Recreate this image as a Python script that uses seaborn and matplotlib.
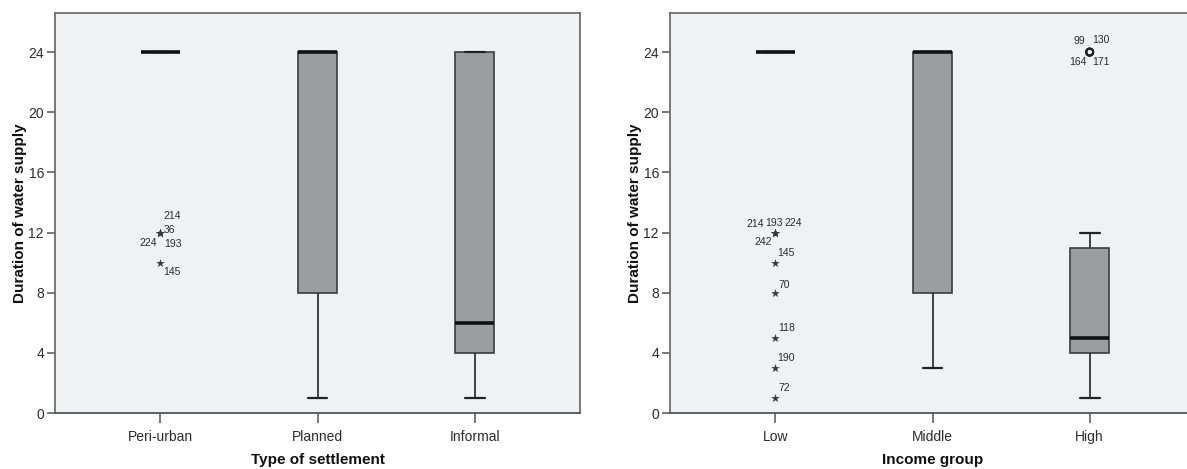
import matplotlib
matplotlib.use("Agg")
import matplotlib.pyplot as plt
import pandas as pd
import seaborn as sns

# Five-number summaries (hours of water supply per day)
settlement = ["Peri-urban", "Planned", "Informal"]
settlement_min = [24, 1, 1]
settlement_q1 = [24, 8, 4]
settlement_median = [24, 24, 6]
settlement_q3 = [24, 24, 24]
settlement_max = [24, 24, 24]

income = ["Low", "Middle", "High"]
income_min = [24, 3, 1]
income_q1 = [24, 8, 4]
income_median = [24, 24, 5]
income_q3 = [24, 24, 11]
income_max = [24, 24, 12]

# Extreme values (stars) and outliers (circles) with their case numbers
settlement_extreme_group = ["Peri-urban"] * 5
settlement_extreme_hours = [12, 12, 12, 12, 10]
settlement_extreme_case = ["214", "36", "224", "193", "145"]

income_extreme_group = ["Low"] * 9
income_extreme_hours = [12, 12, 12, 12, 10, 8, 5, 3, 1]
income_extreme_case = ["214", "193", "224", "242", "145", "70", "118", "190", "72"]

income_outlier_group = ["High"] * 4
income_outlier_hours = [24, 24, 24, 24]
income_outlier_case = ["99", "130", "164", "171"]

y_ticks = [0, 4, 8, 12, 16, 20, 24]

# Label offsets in pixels (dx right, dy down) for each case label
settlement_extreme_offset = [(12, -17), (9, -3), (-12, 10), (13, 11), (12, 9)]
income_extreme_offset = [(-20, -9), (-1, -10), (18, -10), (-12, 9),
                         (11, -10), (9, -8), (11, -10), (11, -10), (9, -10)]
income_outlier_offset = [(-10, -11), (11, -12), (-12, 10), (11, 10)]

sns.set_style("white")
plt.rcParams["font.family"] = ["Liberation Sans", "DejaVu Sans"]

BG = "#f0f1f3"
BOX = "#9c9da1"
EDGE = "#3c3c3c"
FRAME = "#6e6e6e"
TXT = "#2b2b2b"


def summary_frame(groups, mins, q1s, meds, q3s, maxs):
    rows = []
    for g, a, b, c, d, e in zip(groups, mins, q1s, meds, q3s, maxs):
        for v in (a, b, c, d, e):
            rows.append({"group": g, "hours": v})
    return pd.DataFrame(rows)


def label_cases(ax, groups, grp, hrs, cases, offsets):
    for g, h, c, (dx, dy) in zip(grp, hrs, cases, offsets):
        ax.annotate(c, (groups.index(g), h), xytext=(dx * 0.72, -dy * 0.72),
                    textcoords="offset points", ha="center", va="center",
                    fontsize=7.5, color=TXT)


def draw_panel(ax, groups, frame, xlabel, ext_g, ext_h, ext_c, ext_off,
               out_g=None, out_h=None, out_c=None, out_off=None):
    ax.set_facecolor(BG)
    sns.boxplot(data=frame, x="group", y="hours", order=groups, ax=ax,
                width=0.25, whis=(0, 100), showfliers=False,
                color=BOX, saturation=1, linecolor=EDGE, linewidth=1.2,
                medianprops=dict(color="#111111", linewidth=2.6),
                capprops=dict(color="#222222", linewidth=1.6),
                whiskerprops=dict(color="#333333", linewidth=1.3))
    sns.stripplot(x=ext_g, y=ext_h, order=groups, jitter=False, marker="*",
                  size=6.5, color="#3a3a3a", linewidth=0, ax=ax)
    label_cases(ax, groups, ext_g, ext_h, ext_c, ext_off)
    if out_g is not None:
        sns.stripplot(x=out_g, y=out_h, order=groups, jitter=False, marker="o",
                      size=5, color="#222222", ax=ax)
        coll = ax.collections[-1]
        coll.set_facecolor("none")
        coll.set_edgecolor("#222222")
        coll.set_linewidth(1.4)
        label_cases(ax, groups, out_g, out_h, out_c, out_off)

    ax.set_xlim(-0.67, 2.67)
    ax.set_ylim(0, 26.6)
    ax.set_yticks(y_ticks)
    ax.set_yticklabels([str(t) for t in y_ticks])
    ax.set_xlabel(xlabel, fontsize=11, fontweight="bold", color="#111111",
                  labelpad=7)
    ax.set_ylabel("Duration of water supply", fontsize=11, fontweight="bold",
                  color="#111111", labelpad=1)
    ax.tick_params(axis="both", direction="out", length=6, width=1.1,
                   color="#555555", labelcolor=TXT, labelsize=10, pad=2,
                   left=True, bottom=True)
    ax.tick_params(axis="x", length=7, pad=5)
    for side, sp in ax.spines.items():
        sp.set_visible(True)
        sp.set_color(FRAME)
        sp.set_linewidth(1.3)
    ax.spines["bottom"].set_color("#555555")


fig = plt.figure(figsize=(11.87, 4.69), dpi=100)
ax1 = fig.add_axes([55 / 1187, 56 / 469, 525 / 1187, 400 / 469])
ax2 = fig.add_axes([670 / 1187, 56 / 469, 525 / 1187, 400 / 469])

draw_panel(ax1, settlement,
           summary_frame(settlement, settlement_min, settlement_q1,
                         settlement_median, settlement_q3, settlement_max),
           "Type of settlement",
           settlement_extreme_group, settlement_extreme_hours,
           settlement_extreme_case, settlement_extreme_offset)

draw_panel(ax2, income,
           summary_frame(income, income_min, income_q1, income_median,
                         income_q3, income_max),
           "Income group",
           income_extreme_group, income_extreme_hours,
           income_extreme_case, income_extreme_offset,
           income_outlier_group, income_outlier_hours,
           income_outlier_case, income_outlier_offset)

fig.savefig("out.png", dpi=100, facecolor="white")
